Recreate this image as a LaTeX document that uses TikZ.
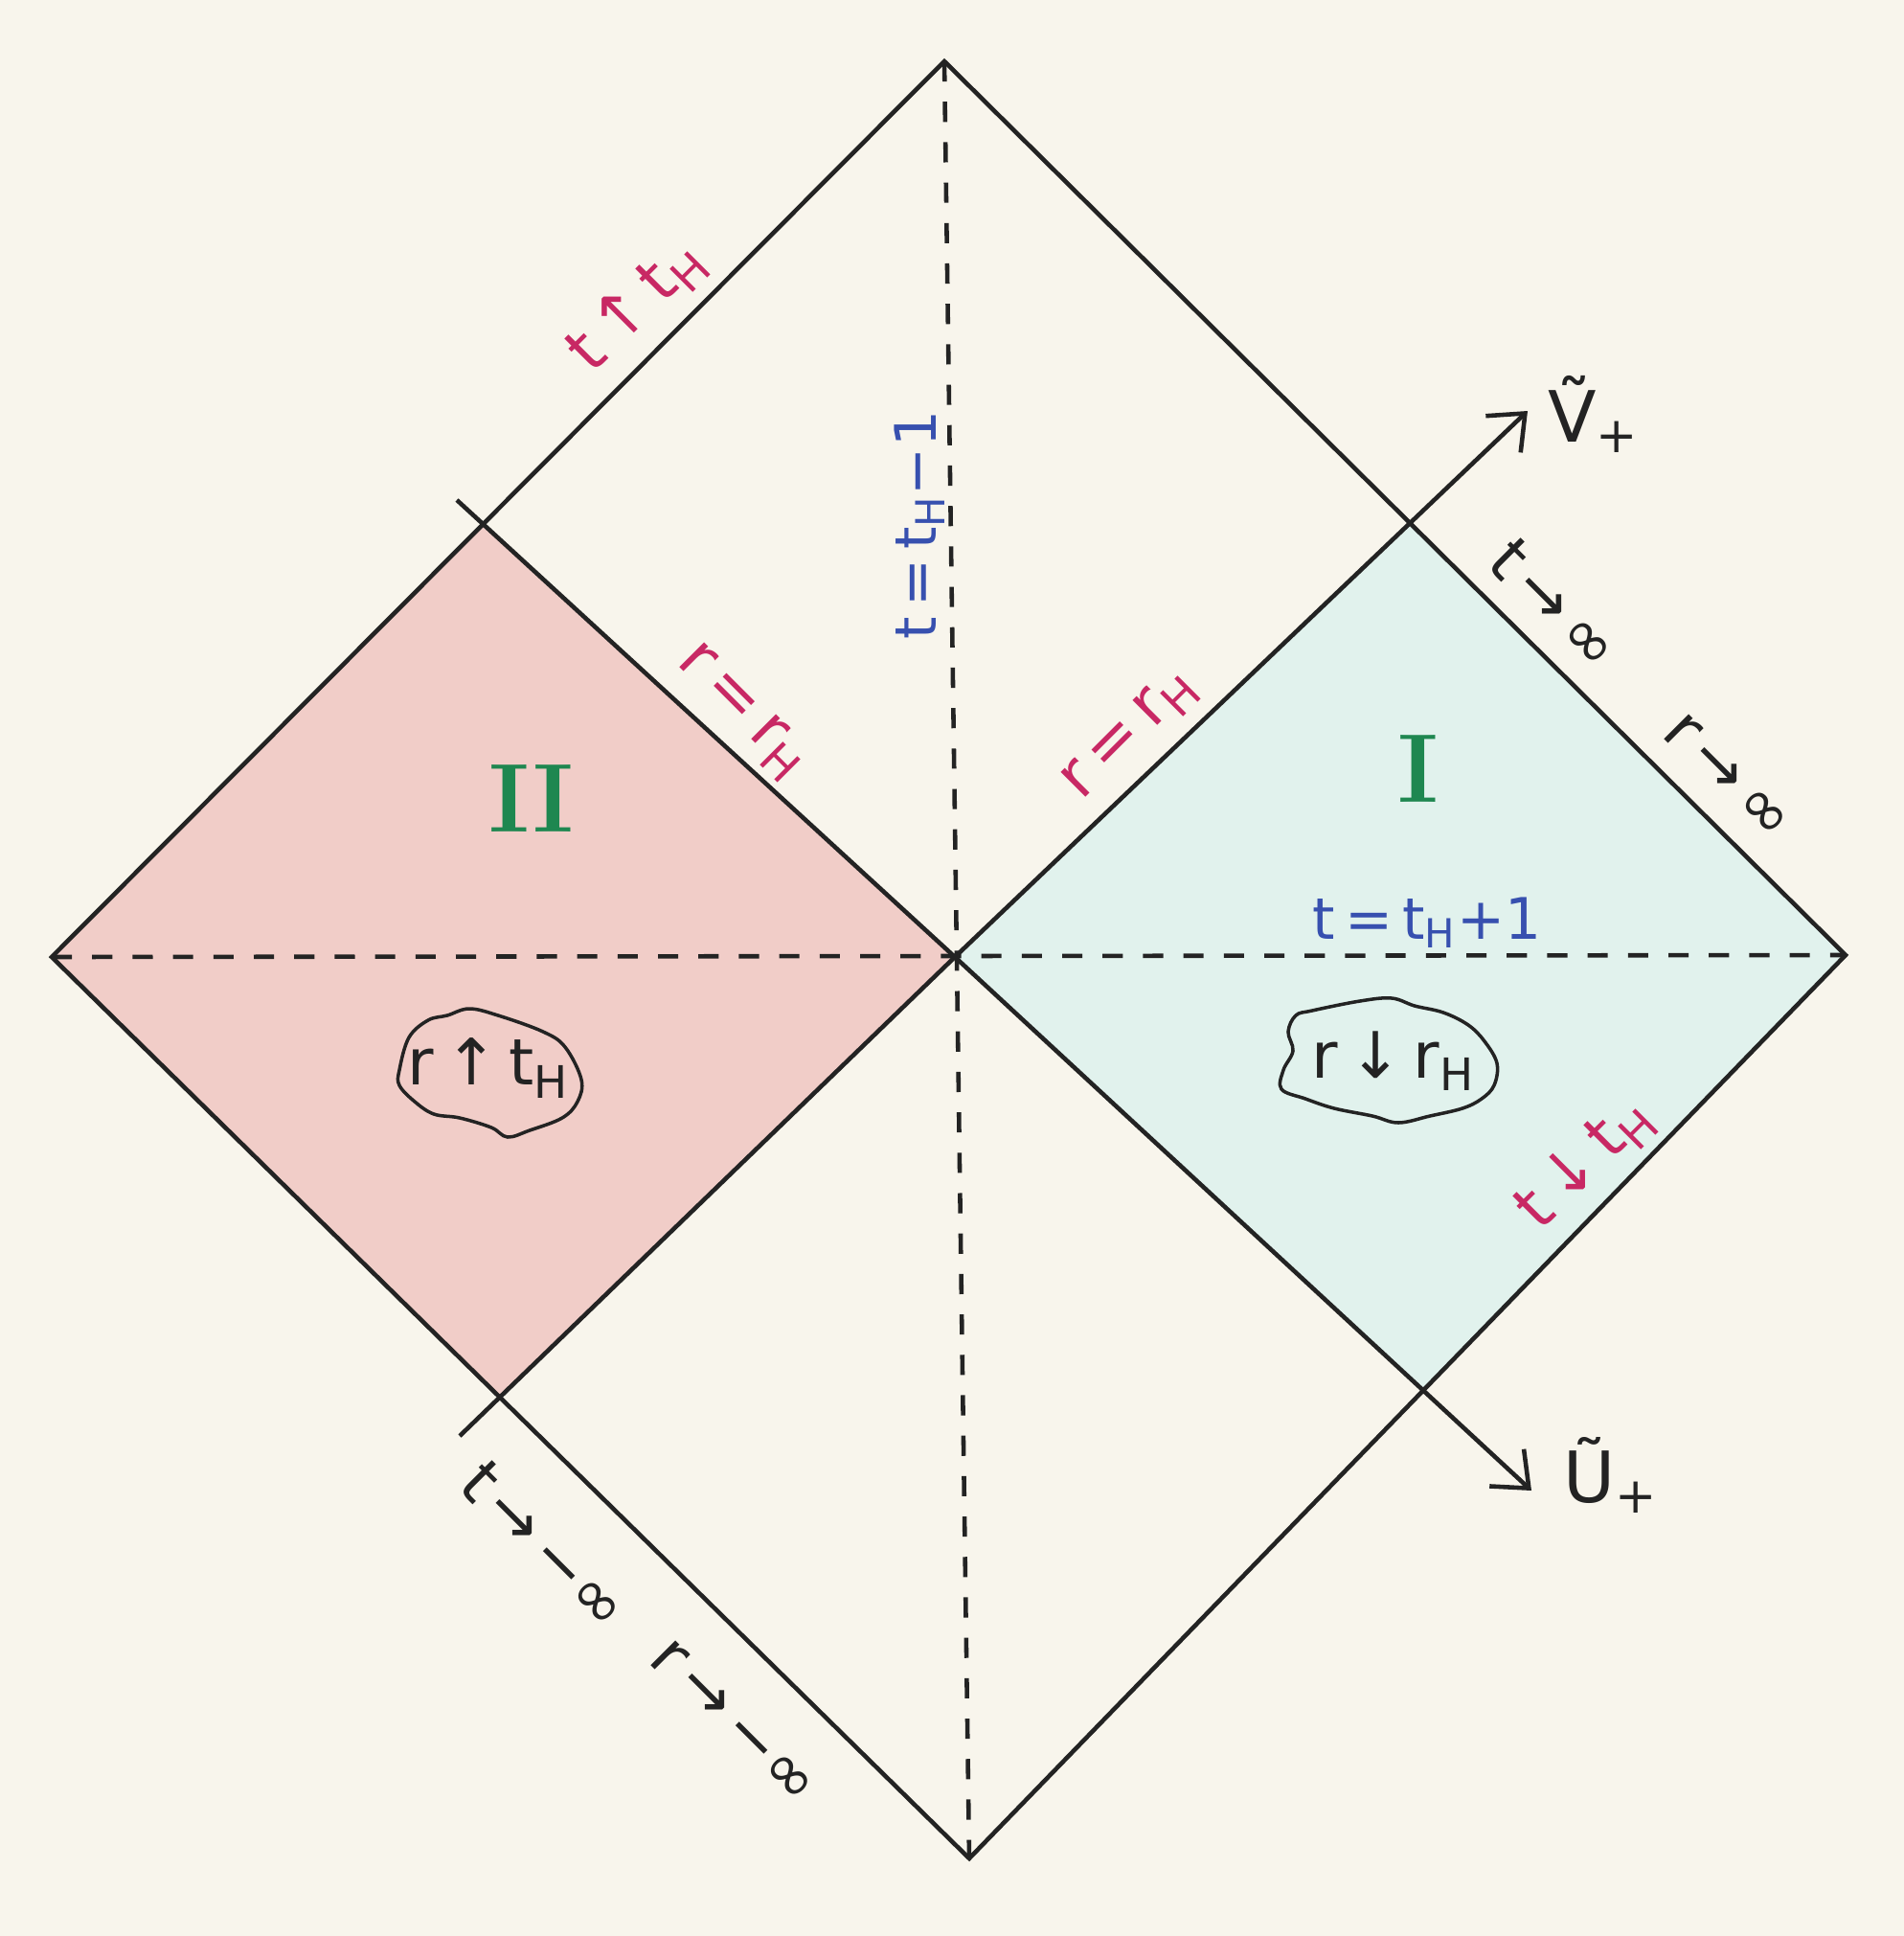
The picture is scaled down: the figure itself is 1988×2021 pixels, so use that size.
\documentclass[tikz,border=0pt]{standalone}
\usepackage{fontspec}
\setmainfont{DejaVu Sans}
\newfontfamily\romfont{Latin Modern Roman}
\usetikzlibrary{arrows.meta}
\definecolor{paper}{RGB}{248,245,236}
\definecolor{redfill}{RGB}{241,205,200}
\definecolor{cyanfill}{RGB}{225,242,237}
\definecolor{magentaink}{RGB}{200,40,100}
\definecolor{blueink}{RGB}{55,80,175}
\definecolor{greenink}{RGB}{30,135,80}
\definecolor{ink}{RGB}{35,35,35}
\begin{document}
\begin{tikzpicture}[x=0.01cm,y=-0.01cm,
  edge/.style={draw=ink,line width=1.3pt},
  dashline/.style={draw=ink,line width=1.3pt,dash pattern=on 6pt off 6pt},
  axisline/.style={draw=ink,line width=1.3pt,-{Straight Barb[length=9pt,width=15pt,line width=1.3pt]}},
  lab/.style={inner sep=0pt,font=\fontsize{19}{22}\selectfont},
  bluelab/.style={inner sep=0pt,text=blueink,font=\fontsize{17}{20}\selectfont},
  roman/.style={inner sep=0pt,text=greenink,font=\fontsize{29}{34}\selectfont\romfont\bfseries},
  blob/.style={draw=ink,line width=1pt}]
\useasboundingbox (0,0) rectangle (1988,2021);
\fill[paper] (0,0) rectangle (1988,2021);

\coordinate (T) at (986,64);
\coordinate (B) at (1012,1940);
\coordinate (L) at (54,999);
\coordinate (R) at (1927,997);
\coordinate (C) at (997,999);
\coordinate (Xul) at (477,522);
\coordinate (Xll) at (480,1499);
\coordinate (Vt) at (1595,429);
\coordinate (Ut) at (1599,1556);
\coordinate (A1) at (intersection of L--T and Xul--C);
\coordinate (A2) at (intersection of L--B and Xll--C);
\coordinate (A3) at (intersection of T--R and C--Vt);
\coordinate (A4) at (intersection of R--B and C--Ut);

% shaded regions
\fill[redfill] (L) -- (A1) -- (C) -- (A2) -- cycle;
\fill[cyanfill] (C) -- (A3) -- (R) -- (A4) -- cycle;

% boundary
\draw[edge] (L) -- (T) -- (R) -- (B) -- cycle;
% axes
\draw[axisline] (Xll) -- (C) -- (Vt);
\draw[axisline] (Xul) -- (C) -- (Ut);
% dashed lines
\draw[dashline] (T) -- (B);
\draw[dashline] (L) -- (R);

% axis labels
\node[lab,text=ink,font=\fontsize{21}{24}\selectfont] (V) at (1664,432) {Ṽ\textsubscript{+}};
\node[lab,text=ink,font=\fontsize{21}{24}\selectfont] (U) at (1682,1540) {Ũ\textsubscript{+}};

% region numbers
\node[roman] (II) at (555,834) {II};
\node[roman] (I) at (1481,803) {I};

% magenta labels
\node[lab,text=magentaink,rotate=45] (tupH) at (665,320) {t\,↑\,t\textsubscript{H}};
\node[lab,text=magentaink,rotate=-45] (rH1) at (774,744) {r\,=\,r\textsubscript{H}};
\node[lab,text=magentaink,rotate=45] (rH2) at (1181,768) {r\,=\,r\textsubscript{H}};
\node[lab,text=magentaink,rotate=45] (tdnH) at (1655,1215) {t\,↓\,t\textsubscript{H}};

% blue labels
\node[bluelab,rotate=90] (tm) at (960,548) {t\,=\,t\textsubscript{H}−1};
\node[bluelab] (tp) at (1490,963) {t\,=\,t\textsubscript{H}+1};

% black labels along edges
\node[lab,text=ink,rotate=-45] (tinf) at (1624,631) {t\,→\,∞};
\node[lab,text=ink,rotate=-45] (rinf) at (1804,811) {r\,→\,∞};
\node[lab,text=ink,rotate=-45] (tminf) at (569,1613) {t\,→\,−∞};
\node[lab,text=ink,rotate=-45] (rminf) at (766,1798) {r\,→\,−∞};

% clouds
\draw[blob] plot[smooth cycle,tension=0.6] coordinates {(417,1117) (427,1083) (447,1065) (467,1060) (490,1053) (520,1060) (567,1077) (590,1093) (607,1127) (603,1150) (587,1167) (553,1180) (530,1187) (513,1177) (480,1167) (453,1163) (433,1150) (417,1133)};
\node[lab,text=ink] (cl) at (510,1115) {r\,↑\,t\textsubscript{H}};
\draw[blob] plot[smooth cycle,tension=0.6] coordinates {(1370,1055) (1420,1045) (1453,1042) (1477,1050) (1507,1057) (1533,1070) (1550,1087) (1563,1110) (1560,1133) (1547,1147) (1527,1157) (1493,1165) (1460,1172) (1433,1165) (1393,1157) (1363,1147) (1338,1137) (1340,1117) (1350,1097) (1345,1077) (1353,1060)};
\node[lab,text=ink] (cr) at (1455,1108) {r\,↓\,r\textsubscript{H}};
\end{tikzpicture}
\end{document}
